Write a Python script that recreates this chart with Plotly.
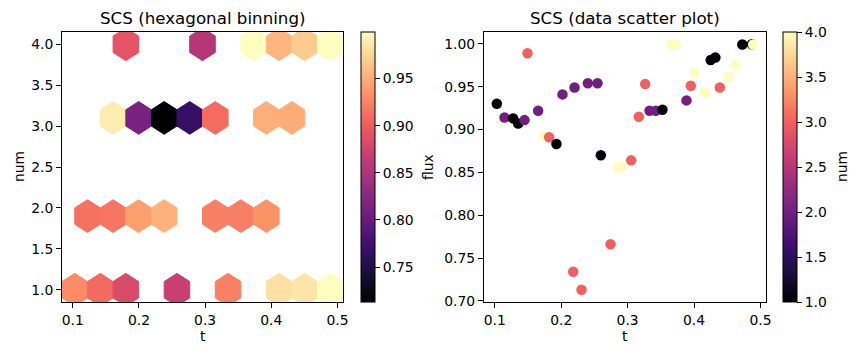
import numpy as np
import plotly.graph_objects as go
import plotly.colors as pc

# ---------------- data ----------------
t = [0.1030, 0.1146, 0.1276, 0.1351, 0.1447, 0.1492, 0.1652, 0.1738, 0.1818, 0.1928,
     0.2019, 0.2180, 0.2200, 0.2305, 0.2400, 0.2546, 0.2596, 0.2742, 0.2857, 0.2907,
     0.3053, 0.3168, 0.3264, 0.3330, 0.3424, 0.3524, 0.3655, 0.3730, 0.3886, 0.3951,
     0.4006, 0.4162, 0.4249, 0.4320, 0.4388, 0.4523, 0.4624, 0.4726, 0.4870, 0.4890]
flux = [0.930, 0.914, 0.913, 0.907, 0.911, 0.989, 0.922, 0.892, 0.891, 0.883,
        0.941, 0.734, 0.949, 0.713, 0.954, 0.954, 0.870, 0.766, 0.855, 0.857,
        0.864, 0.915, 0.953, 0.922, 0.922, 0.923, 0.9992, 0.9992, 0.934, 0.951,
        0.966, 0.943, 0.981, 0.984, 0.949, 0.961, 0.975, 0.9992, 0.9995, 0.9992]
num = [1, 2, 1, 1, 2, 3, 2, 4, 3, 1,
       2, 3, 2, 3, 2, 2, 1, 3, 4, 4,
       3, 3, 3, 2, 2, 1, 4, 4, 2, 3,
       4, 4, 1, 1, 3, 4, 4, 1, 1, 4]

title_left = "SCS (hexagonal binning)"
title_right = "SCS (data scatter plot)"
x_label = "t"
left_y_label = "num"
right_y_label = "flux"
cbar_right_label = "num"
x_ticks = [0.1, 0.2, 0.3, 0.4, 0.5]
left_y_ticks = [1.0, 1.5, 2.0, 2.5, 3.0, 3.5, 4.0]
right_y_ticks = [0.70, 0.75, 0.80, 0.85, 0.90, 0.95, 1.00]
hex_cbar_ticks = [0.75, 0.80, 0.85, 0.90, 0.95]
num_cbar_ticks = [1.0, 1.5, 2.0, 2.5, 3.0, 3.5, 4.0]
GRIDSIZE = 10

# ---------------- figure geometry (screen pixels; page body has an 8px margin) ----------------
OFF = 8
W, H = 858 - OFF, 355 - OFF
def px(x): return (x - OFF) / W
def py(y): return 1 - (y - OFF) / H

FONT = "DejaVu Sans"
TICK_SIZE = 13.9
TITLE_SIZE = 16.7
MAGMA = pc.sequential.Magma

tx = np.array(t, float)
fx = np.array(flux, float)
nm = np.array(num, float)

# ---------------- hexbin (matplotlib algorithm) ----------------
nx = GRIDSIZE
ny = int(nx / np.sqrt(3))
xmin, xmax = tx.min(), tx.max()
ymin, ymax = nm.min(), nm.max()
padx = 1e-9 * (xmax - xmin); xmin -= padx; xmax += padx
pady = 1e-9 * (ymax - ymin); ymin -= pady; ymax += pady
sx = (xmax - xmin) / nx
sy = (ymax - ymin) / ny
ix = (tx - xmin) / sx
iy = (nm - ymin) / sy
ix1 = np.round(ix); iy1 = np.round(iy)
ix2 = np.floor(ix); iy2 = np.floor(iy)
d1 = (ix - ix1) ** 2 + 3.0 * (iy - iy1) ** 2
d2 = (ix - ix2 - 0.5) ** 2 + 3.0 * (iy - iy2 - 0.5) ** 2
cx = np.where(d1 < d2, xmin + ix1 * sx, xmin + (ix2 + 0.5) * sx)
cy = np.where(d1 < d2, ymin + iy1 * sy, ymin + (iy2 + 0.5) * sy)

bins = {}
for a, b, v in zip(cx, cy, fx):
    key = (round(a, 9), round(b, 9))
    bins.setdefault(key, []).append(v)
centers = list(bins.keys())
means = [float(np.mean(bins[k])) for k in centers]
vmin, vmax = min(means), max(means)

hex_shape = np.array([[.5, -.5], [.5, .5], [0., 1.], [-.5, .5], [-.5, -.5], [0., -1.], [.5, -.5]]) * [sx, sy / 3]

fig = go.Figure()
for (hxc, hyc), m in zip(centers, means):
    col = pc.sample_colorscale(MAGMA, [(m - vmin) / (vmax - vmin)])[0]
    fig.add_trace(go.Scatter(
        x=hxc + hex_shape[:, 0], y=hyc + hex_shape[:, 1],
        mode="lines", fill="toself", fillcolor=col,
        line=dict(color=col, width=1), hoverinfo="skip", showlegend=False,
        xaxis="x", yaxis="y"))

cb_common = dict(thickness=14, len=(302 - 32) / H, lenmode="fraction",
                 y=py(302), yanchor="bottom", xanchor="left", xpad=0, ypad=0,
                 outlinewidth=1, outlinecolor="black", ticks="outside", ticklen=5,
                 tickwidth=1, tickcolor="black",
                 tickfont=dict(family=FONT, size=TICK_SIZE, color="black"))
fig.add_trace(go.Scatter(
    x=[None, None], y=[None, None], mode="markers", showlegend=False, hoverinfo="skip",
    marker=dict(color=[vmin, vmax], cmin=vmin, cmax=vmax, colorscale=MAGMA, showscale=True,
                colorbar=dict(x=px(361), tickvals=hex_cbar_ticks,
                              ticktext=[f"{v:.2f}" for v in hex_cbar_ticks], **cb_common)),
    xaxis="x", yaxis="y"))

fig.add_trace(go.Scatter(
    x=t, y=flux, mode="markers", showlegend=False,
    marker=dict(size=10.5, color=num, cmin=1, cmax=4, colorscale=MAGMA, showscale=True,
                line=dict(width=0),
                colorbar=dict(x=px(783), tickvals=num_cbar_ticks,
                              ticktext=[f"{v:.1f}" for v in num_cbar_ticks], **cb_common)),
    xaxis="x2", yaxis="y2"))

def rng(arr):
    lo, hi = float(np.min(arr)), float(np.max(arr))
    m = 0.05 * (hi - lo)
    return [lo - m, hi + m]

ax_common = dict(showline=True, mirror=True, linecolor="black", linewidth=1,
                 ticks="outside", ticklen=5, tickwidth=1, tickcolor="black",
                 showgrid=False, zeroline=False, automargin=False,
                 tickfont=dict(family=FONT, size=TICK_SIZE, color="black"))

fig.update_layout(
    width=W, height=H, margin=dict(l=0, r=0, t=0, b=0, autoexpand=False),
    paper_bgcolor="white", plot_bgcolor="white",
    font=dict(family=FONT, color="black"),
    xaxis=dict(domain=[px(62), px(343)], range=rng(tx), tickvals=x_ticks,
               ticktext=[f"{v:.1f}" for v in x_ticks], anchor="y", **ax_common),
    yaxis=dict(domain=[py(302), py(32)], range=rng(nm), tickvals=left_y_ticks,
               ticktext=[f"{v:.1f}" for v in left_y_ticks], anchor="x", **ax_common),
    xaxis2=dict(domain=[px(484), px(766)], range=rng(tx), tickvals=x_ticks,
                ticktext=[f"{v:.1f}" for v in x_ticks], anchor="y2", **ax_common),
    yaxis2=dict(domain=[py(302), py(32)], range=rng(fx), tickvals=right_y_ticks,
                ticktext=[f"{v:.2f}" for v in right_y_ticks], anchor="x2", **ax_common),
)

ann = []
def add_text(text, x, y, size, angle=0):
    ann.append(dict(text=text, x=px(x), y=py(y), xref="paper", yref="paper",
                    xanchor="center", yanchor="middle", showarrow=False, textangle=angle,
                    font=dict(family=FONT, size=size, color="black")))

add_text(title_left, (62 + 343) / 2, 18, TITLE_SIZE)
add_text(title_right, (484 + 766) / 2, 18, TITLE_SIZE)
add_text(x_label, (62 + 343) / 2, 336, TICK_SIZE)
add_text(x_label, (484 + 766) / 2, 336, TICK_SIZE)
add_text(left_y_label, 19, 167, TICK_SIZE, -90)
add_text(right_y_label, 428, 167, TICK_SIZE, -90)
add_text(cbar_right_label, 842, 167, TICK_SIZE, -90)
fig.update_layout(annotations=ann)

fig.write_html("out.html")
